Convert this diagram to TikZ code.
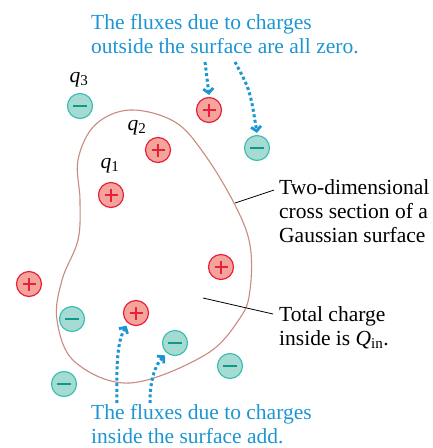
\documentclass[tikz,border=0pt]{standalone}
\usepackage{fontspec}
\setmainfont{Liberation Serif}
\usetikzlibrary{arrows.meta}
\definecolor{posfill}{HTML}{F5A49C}
\definecolor{posline}{HTML}{E8203A}
\definecolor{negfill}{HTML}{A6DBD3}
\definecolor{negline}{HTML}{3CBFB2}
\definecolor{negsign}{HTML}{0E9A8A}
\definecolor{fluxblue}{HTML}{1C96D2}
\definecolor{surf}{HTML}{C98A80}
\tikzset{
  charge/.style={circle, minimum size=25pt, inner sep=0pt, line width=1.2pt},
  poscharge/.style={charge, draw=posline, fill=posfill,
    path picture={\draw[posline, line width=2.6pt]
      ([xshift=-6.5pt]path picture bounding box.center) -- ([xshift=6.5pt]path picture bounding box.center)
      ([yshift=-6.5pt]path picture bounding box.center) -- ([yshift=6.5pt]path picture bounding box.center);}},
  negcharge/.style={charge, draw=negline, fill=negfill,
    path picture={\draw[negsign, line width=2.6pt]
      ([xshift=-7pt]path picture bounding box.center) -- ([xshift=7pt]path picture bounding box.center);}},
  lbl/.style={inner sep=0pt, align=left, anchor=base west, font=\fontsize{21.5}{24}\selectfont},
  qlbl/.style={inner sep=0pt, font=\fontsize{21.5}{24}\selectfont},
  flux/.style={fluxblue, line width=3pt, dash pattern=on 3pt off 2.6pt,
    -{Straight Barb[length=4.5pt,width=10pt,line width=2.8pt]}},
  leader/.style={line width=0.8pt, black}
}
\begin{document}
\begin{tikzpicture}[x=1pt,y=-1pt]
\useasboundingbox (0,0) rectangle (433,448);
% Gaussian surface
\draw[surf, line width=1.1pt] plot[smooth cycle, tension=0.6] coordinates {
  (130,110) (175,122) (205,155) (235,205) (250,245) (250,290) (240,318)
  (205,355) (130,383) (75,362) (57,320) (62,280) (78,240) (80,200) (78,160) (95,125)};
% charges
\node[negcharge] (q3) at (80,106) {};
\node[poscharge] (otop) at (209,110) {};
\node[negcharge] (oright) at (257,148) {};
\node[poscharge] (q2) at (158,150) {};
\node[poscharge] (q1) at (111,195) {};
\node[poscharge] (iright) at (221,267) {};
\node[poscharge] (oleft) at (29,284) {};
\node[negcharge] (ileft) at (72,319) {};
\node[poscharge] (icenter) at (136,313) {};
\node[negcharge] (ibottom) at (175,343) {};
\node[negcharge] (obright) at (230,366) {};
\node[negcharge] (obleft) at (64,384) {};
% charge labels
\node[qlbl] (l3) at (79,80) {\textit{q}\textsubscript{3}};
\node[qlbl] (l2) at (137,128) {\textit{q}\textsubscript{2}};
\node[qlbl] (l1) at (110,166) {\textit{q}\textsubscript{1}};
% texts (anchored at the baseline of the last line)
\node[lbl, text=fluxblue] (ttop) at (91,53.5) {The fluxes due to charges\\outside the surface are all zero.};
\node[lbl] (tsurf) at (279,242) {Two-dimensional\\cross section of a\\Gaussian surface};
\node[lbl] (tq) at (279,345.5) {Total charge\\inside is \textit{Q}\textsubscript{in}.};
\node[lbl, text=fluxblue] (tbot) at (91,443.5) {The fluxes due to charges\\inside the surface add.};
% leaders
\coordinate (s1) at (235,203);
\coordinate (s1e) at (274,190);
\draw[leader] (s1) -- (s1e);
\coordinate (s2) at (203,298);
\coordinate (s2e) at (273,314);
\draw[leader] (s2) -- (s2e);
% flux arrows
\coordinate (a1) at (205,62);
\coordinate (a2) at (235,62);
\coordinate (b1) at (117,403);
\coordinate (b2) at (150,403);
\draw[flux] (a1) .. controls (207,78) .. ([yshift=2pt]otop.north);
\draw[flux] (a2) .. controls (250,90) .. ([yshift=2pt]oright.north);
\draw[flux] (b1) .. controls (116,360) and (118,340) .. ([shift={(-2pt,-2pt)}]icenter.-125);
\draw[flux] (b2) .. controls (150,380) and (155,365) .. ([shift={(-2pt,-2pt)}]ibottom.-128);
\end{tikzpicture}
\end{document}
